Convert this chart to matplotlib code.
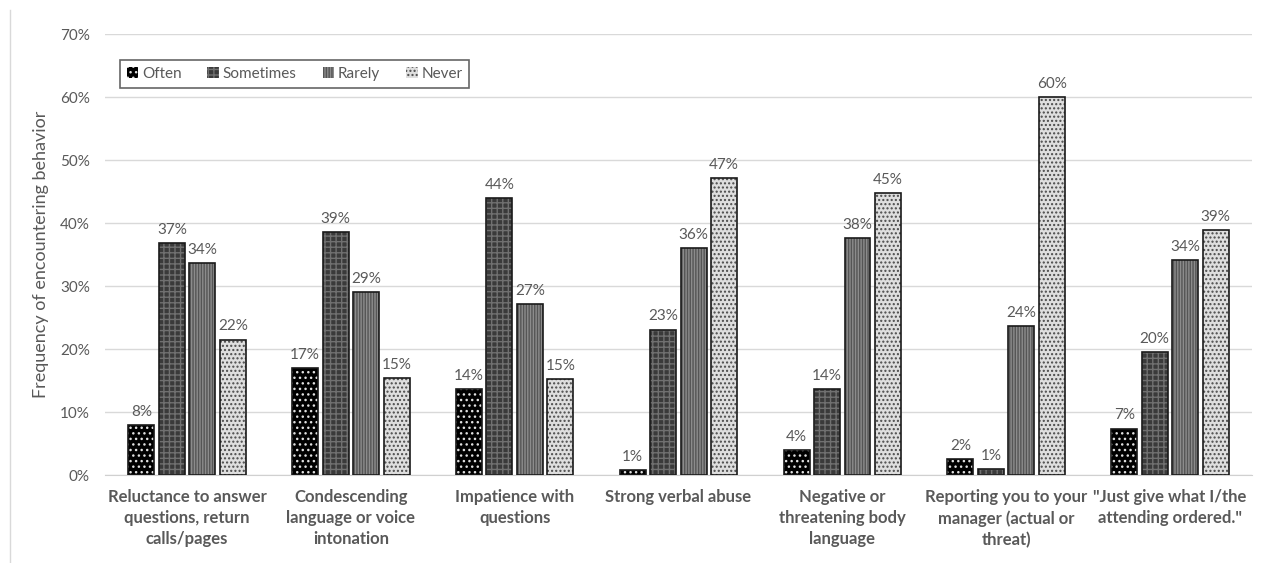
import numpy as np
import matplotlib.pyplot as plt
from matplotlib.lines import Line2D
from matplotlib.ticker import PercentFormatter

plt.rcParams['font.family'] = ['Lato', 'DejaVu Sans']
plt.rcParams['hatch.linewidth'] = 1.0

behaviors = ['Reluctance to answer\nquestions, return\ncalls/pages',
             'Condescending\nlanguage or voice\nintonation',
             'Impatience with\nquestions',
             'Strong verbal abuse',
             'Negative or\nthreatening body\nlanguage',
             'Reporting you to your\nmanager (actual or\nthreat)',
             '"Just give what I/the\nattending ordered."']

often = [7.9, 17.0, 13.7, 0.8, 4.0, 2.5, 7.4]
sometimes = [36.8, 38.6, 44.0, 23.1, 13.7, 0.9, 19.5]
rarely = [33.6, 29.0, 27.1, 36.0, 37.6, 23.7, 34.1]
never = [21.5, 15.4, 15.2, 47.1, 44.7, 60.0, 38.9]

series = [('Often', often, 'black', '#e0e0e0', '...'),
          ('Sometimes', sometimes, '#3a3a3a', '#707070', '+++'),
          ('Rarely', rarely, '#8c8c8c', '#555555', '||||||'),
          ('Never', never, '#dedede', '#4a4a4a', '....')]

text_gray = '#595959'
fig = plt.figure(figsize=(12.67, 5.63), dpi=100)
ax = fig.add_axes([0.083, 0.156, 0.905, 0.7836])

x = np.arange(len(behaviors))
step = 0.186
width = 0.158

for i, (name, vals, face, hcol, hatch) in enumerate(series):
    pos = x + (i - 1.5) * step
    ax.bar(pos, vals, width, color=face, edgecolor=hcol, hatch=hatch, linewidth=0, zorder=2)
    ax.bar(pos, vals, width, facecolor='none', edgecolor='#1a1a1a', linewidth=1.2, zorder=3)
    for xp, v in zip(pos, vals):
        ax.text(xp, v + 1.0, f'{v:.0f}%', ha='center', va='bottom', fontsize=11, color=text_gray)

# legend keys show the same fill patterns as the bars
handles = [plt.Rectangle((0, 0), 1, 1, facecolor=f, edgecolor=h, hatch=p, linewidth=0)
           for _, _, f, h, p in series]
leg = ax.legend(handles, [s[0] for s in series], ncol=4, loc='upper left',
                bbox_to_anchor=(0.006, 0.958), fontsize=11, frameon=True, fancybox=False,
                handlelength=0.75, handleheight=0.75, handletextpad=0.25, columnspacing=1.7,
                borderpad=0.45, labelcolor=text_gray)
leg.get_frame().set_edgecolor('#404040')
leg.get_frame().set_linewidth(1.2)

ax.set_xlim(-0.5, 6.5)
ax.set_ylim(0, 70)
ax.set_yticks(np.arange(0, 71, 10))
ax.yaxis.set_major_formatter(PercentFormatter(decimals=0))
ax.set_xticks(x)
ax.set_xticklabels(behaviors, fontsize=12, fontweight='bold', color=text_gray, linespacing=1.4)
ax.tick_params(axis='both', length=0, colors=text_gray)
ax.tick_params(axis='y', labelsize=11, pad=11)
ax.tick_params(axis='x', pad=10)
ax.grid(axis='y', color='#d9d9d9', linewidth=1, zorder=0)
ax.set_axisbelow(True)
for s in ['top', 'right', 'left']:
    ax.spines[s].set_visible(False)
ax.spines['bottom'].set_color('#d0d0d0')
ax.set_ylabel('Frequency of encountering behavior', fontsize=13, color=text_gray, labelpad=8)

fig.add_artist(Line2D([10 / 1267, 10 / 1267], [0, 1 - 10 / 563], color='#d9d9d9', linewidth=1))

fig.savefig('out.png', dpi=100)
